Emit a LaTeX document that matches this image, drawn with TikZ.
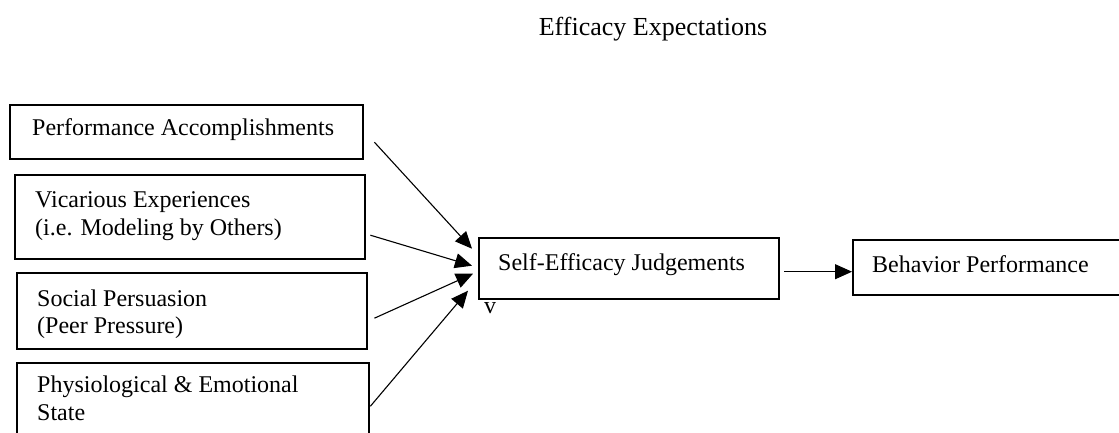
\documentclass[tikz,border=0pt]{standalone}
\usepackage{fontspec}
\setmainfont{Liberation Serif}
\usetikzlibrary{arrows.meta,calc}
\begin{document}
\begin{tikzpicture}[x=1pt,y=-1pt,
  box/.style={draw,line width=2.4pt,inner sep=0pt,anchor=north west},
  txt/.style={inner sep=0pt,anchor=base west,font=\fontsize{24}{28}\selectfont},
  arr/.style={line width=1.1pt,-{Triangle[length=17pt,width=15pt]}}]
\useasboundingbox (0,0) rectangle (1119,432);
% title
\node[inner sep=0pt,anchor=base,font=\fontsize{26}{31}\selectfont] (title) at (653,35) {Efficacy Expectations};
% left boxes
\node[box,minimum width=353pt,minimum height=54pt] (pa) at (9,104) {};
\node[txt] (pat) at (32,135) {Performance Accomplishments};
\node[box,minimum width=350pt,minimum height=84pt] (ve) at (14,174) {};
\node[txt] (vet1) at (35,207) {Vicarious Experiences};
\node[txt] (vet2) at (35,235) {(i.e. Modeling by Others)};
\node[box,minimum width=350pt,minimum height=76pt] (sp) at (16,272) {};
\node[txt] (spt1) at (37,306) {Social Persuasion};
\node[txt] (spt2) at (37,333) {(Peer Pressure)};
\node[box,minimum width=352pt,minimum height=90pt] (ph) at (16,362) {};
\node[txt] (pht1) at (37,392) {Physiological \& Emotional};
\node[txt] (pht2) at (37,420) {State};
% middle and right boxes
\node[box,minimum width=300pt,minimum height=61pt] (se) at (478,237) {};
\node[txt] (set) at (498,270) {Self-Efficacy Judgements};
\node[txt] (vv) at (484,313) {v};
\node[box,minimum width=280pt,minimum height=55pt] (bp) at (852,239) {};
\node[txt] (bpt) at (872,272) {Behavior Performance};
% connectors
\draw[arr] ($(pa.east)+(10,10)$) -- ($(se.west)+(-6,-20)$);
\draw[arr] ($(ve.east)+(4,18)$) -- ($(se.west)+(-6,-3)$);
\draw[arr] ($(sp.east)+(6,7)$) -- ($(se.west)+(-5,5)$);
\draw[arr] ($(ph.east)+(0,-2)$) -- ($(se.west)+(-10,22)$);
\draw[arr] ($(se.east)+(4,3)$) -- ($(bp.west)+(0,4)$);
\end{tikzpicture}
\end{document}
